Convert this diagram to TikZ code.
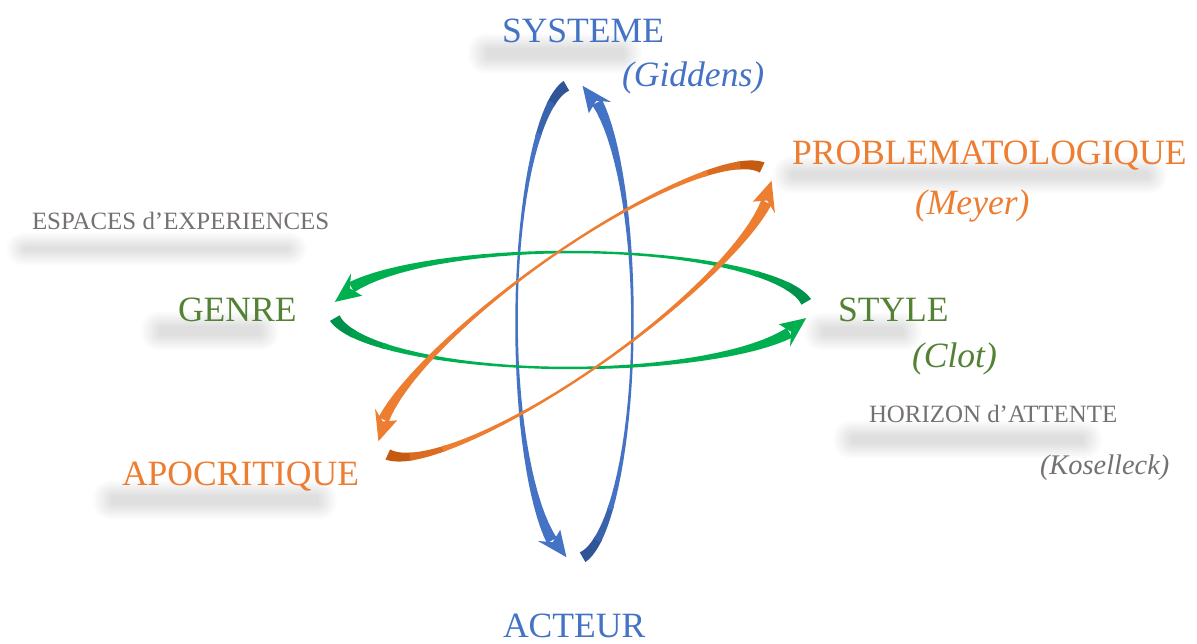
\documentclass[tikz,border=0pt]{standalone}
\usepackage{fontspec}
\setmainfont{Liberation Serif}
\definecolor{blueM}{HTML}{4472C4}
\definecolor{blueD}{HTML}{2F5597}
\definecolor{greenM}{HTML}{00B050}
\definecolor{greenD}{HTML}{00924A}
\definecolor{orangeM}{HTML}{ED7D31}
\definecolor{orangeD}{HTML}{C55A11}
\definecolor{txtGreen}{HTML}{548235}
\definecolor{txtGray}{HTML}{767171}
\tikzset{
  declare function={
    nrm(\t)=sqrt((0.2437*cos(\t))^2+(sin(\t))^2);
    nx(\t)=0.2437*cos(\t)/nrm(\t);
    ny(\t)=sin(\t)/nrm(\t);
    hw(\s)=1.2+4.4*(2*\s-1)^2;
    ox(\t,\h)=238*cos(\t)+\h*nx(\t);
    oy(\t,\h)=58*sin(\t)+\h*ny(\t);
  },
  lbl/.style={anchor=base west, inner sep=0pt, outer sep=0pt},
}
\newcommand\shaftseg[3]{%
  \pgfmathsetmacro\ssum{#1+#2}%
  \fill[#3] plot[domain=#1:#2,samples=30]
      ({ox(\ta+\x*(\tb-\ta),hw(\x))},{oy(\ta+\x*(\tb-\ta),hw(\x))})
    -- plot[domain=#1:#2,samples=30]
      ({ox(\ta+(\ssum-\x)*(\tb-\ta),0-hw(\ssum-\x))},{oy(\ta+(\ssum-\x)*(\tb-\ta),0-hw(\ssum-\x))})
    -- cycle;}
\newcommand\ringarrow[4]{%
  \pgfmathsetmacro\ta{#1}%
  \pgfmathsetmacro\tc{#2}%
  \pgfmathsetmacro\tb{#2-15}%
  \shaftseg{0}{0.11}{#4}%
  \shaftseg{0.1}{0.21}{#4!50!#3}%
  \shaftseg{0.2}{1}{#3}%
  \fill[#3] ({ox(\tb-3,12.5)},{oy(\tb-3,12.5)}) -- ({ox(\tc,0)},{oy(\tc,0)})
     -- ({ox(\tb-3,-12.5)},{oy(\tb-3,-12.5)}) -- ({ox(\tb+1,0)},{oy(\tb+1,0)}) -- cycle;}
% soft blurred band (cast shadow of a label)
\newcommand\blurband[4]{%
  \foreach \k in {0,1,2,3,4,5,6,7}{%
    \pgfmathsetmacro\rc{3+2*\k}%
    \fill[black,opacity=0.016,rounded corners=\rc pt]
      ({#1+16-2.5*\k},{#2+9-2*\k}) rectangle ({#3-16+2.5*\k},{#4-9+2*\k});}}
\begin{document}
\begin{tikzpicture}[x=1bp,y=1bp]
\useasboundingbox (0,0) rectangle (1197,644);
\fill[white] (0,0) rectangle (1197,644);

% cast shadows of the main labels
\blurband{470}{576}{640}{605}
\blurband{775}{456}{1165}{482}
\blurband{806}{299}{920}{326}
\blurband{143}{299}{277}{327}
\blurband{8}{384}{305}{406}
\blurband{835}{191}{1100}{218}
\blurband{95}{130}{335}{158}

% blue ring (vertical)
\begin{scope}[shift={(574.5,322.5)},rotate=90]
  \ringarrow{8}{172}{blueM}{blueD}
  \ringarrow{188}{352}{blueM}{blueD}
\end{scope}
% green ring (horizontal)
\begin{scope}[shift={(570.5,334)}]
  \ringarrow{8}{172}{greenM}{greenD}
  \ringarrow{188}{352}{greenM}{greenD}
\end{scope}
% orange ring (tilted)
\begin{scope}[shift={(575,333)},rotate=35.5]
  \ringarrow{8}{172}{orangeM}{orangeD}
  \ringarrow{188}{352}{orangeM}{orangeD}
\end{scope}

% labels
\node[lbl,text=blueM] (sys) at (502,601) {\fontsize{35.7}{40}\selectfont SYSTEME};
\node[lbl,text=blueM] (gid) at (622,557) {\fontsize{35.7}{40}\selectfont\itshape (Giddens)};
\node[lbl,text=orangeM] (pro) at (792,479) {\fontsize{35.7}{40}\selectfont PROBLEMATOLOGIQUE};
\node[lbl,text=orangeM] (mey) at (915,429) {\fontsize{35.7}{40}\selectfont\itshape (Meyer)};
\node[lbl,text=txtGreen] (sty) at (838,322) {\fontsize{35.7}{40}\selectfont STYLE};
\node[lbl,text=txtGreen] (clo) at (912,276) {\fontsize{35.7}{40}\selectfont\itshape (Clot)};
\node[lbl,text=txtGreen] (gen) at (178,322) {\fontsize{35.7}{40}\selectfont GENRE};
\node[lbl,text=txtGray] (esp) at (32,414) {\fontsize{25}{30}\selectfont ESPACES d’EXPERIENCES};
\node[lbl,text=txtGray] (hor) at (869,221) {\fontsize{25}{30}\selectfont HORIZON d’ATTENTE};
\node[lbl,text=txtGray] (kos) at (1040,169) {\fontsize{28.5}{32}\selectfont\itshape (Koselleck)};
\node[lbl,text=orangeM] (apo) at (122,158) {\fontsize{35.7}{40}\selectfont APOCRITIQUE};
\node[lbl,text=blueM] (act) at (503,6) {\fontsize{35.7}{40}\selectfont ACTEUR};
\end{tikzpicture}
\end{document}
